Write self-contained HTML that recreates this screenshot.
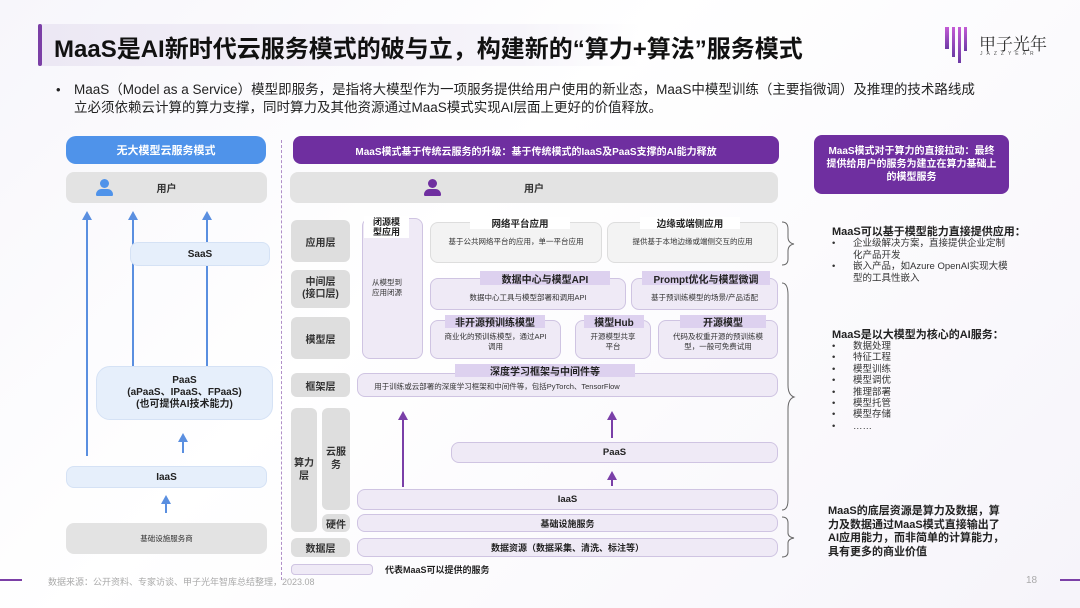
<!DOCTYPE html>
<html><head><meta charset="utf-8"><style>
*{margin:0;padding:0;box-sizing:border-box}
body{width:1080px;height:608px;position:relative;overflow:hidden;background:linear-gradient(135deg,#f7f6fb,#ffffff 40%,#f6f4fa);font-family:"Liberation Sans","Noto Sans CJK SC",sans-serif;color:#222}
.a{position:absolute}
.c{display:flex;align-items:center;justify-content:center;text-align:center}
.g{background:#dedede;border-radius:6px;font-weight:bold;font-size:10px;color:#333}
.l{background:#efeaf6;border:1px solid #cfc4e2;border-radius:8px}
.t{background:#ddd1ef;font-weight:bold;font-size:10px;color:#222}
.s{font-size:7.5px;color:#333}
.vb{background:#5a8fe0;width:2px}
.vp{background:#7a3fa8;width:2px}
.ahb{width:0;height:0;border-left:5px solid transparent;border-right:5px solid transparent;border-bottom:9px solid #5a8fe0}
.ahp{width:0;height:0;border-left:5px solid transparent;border-right:5px solid transparent;border-bottom:9px solid #7a3fa8}
.rt{font-size:9.5px;line-height:11.5px;color:#333}
</style></head><body>
<!-- title -->
<div class="a" style="left:38px;top:24px;width:600px;height:42px;background:linear-gradient(90deg,#ece8f4,#f6f4fa 80%,rgba(255,255,255,0))"></div>
<div class="a" style="left:38px;top:24px;width:4px;height:42px;background:#7b3fa6;border-radius:2px"></div>
<div class="a" style="left:54px;top:29px;font-size:24px;font-weight:bold;color:#111;white-space:nowrap">MaaS是AI新时代云服务模式的破与立，构建新的“算力+算法”服务模式</div>
<!-- logo -->
<div class="a" style="left:945px;top:27px;width:4px;height:22px;background:linear-gradient(#c45bd6,#6d3aa5)"></div>
<div class="a" style="left:952px;top:27px;width:3px;height:30px;background:linear-gradient(#c45bd6,#6d3aa5)"></div>
<div class="a" style="left:958px;top:27px;width:3px;height:36px;background:linear-gradient(#c45bd6,#6d3aa5)"></div>
<div class="a" style="left:964px;top:27px;width:3px;height:24px;background:linear-gradient(#c45bd6,#6d3aa5)"></div>
<div class="a" style="left:979px;top:30px;font-size:17px;color:#333;font-family:'Noto Serif CJK SC',serif">甲子光年</div>
<div class="a" style="left:980px;top:51px;font-size:5px;letter-spacing:4px;color:#555">JAZZYEAR</div>
<!-- intro -->
<div class="a" style="left:56px;top:82px;font-size:13px">•</div>
<div class="a" style="left:74px;top:81px;width:910px;font-size:13.5px;line-height:18px;color:#222">MaaS（Model as a Service）模型即服务，是指将大模型作为一项服务提供给用户使用的新业态，MaaS中模型训练（主要指微调）及推理的技术路线成立必须依赖云计算的算力支撑，同时算力及其他资源通过MaaS模式实现AI层面上更好的价值释放。</div>

<!-- left column -->
<div class="a c" style="left:66px;top:136px;width:200px;height:28px;background:#4f93ea;border-radius:10px;color:#fff;font-weight:bold;font-size:11px">无大模型云服务模式</div>
<div class="a c g" style="left:66px;top:172px;width:201px;height:31px;border-radius:8px;font-size:10px;background:#e3e3e3">用户</div>
<div class="a" style="left:100px;top:179px;width:9px;height:9px;border-radius:50%;background:#4f93ea"></div>
<div class="a" style="left:96px;top:189px;width:17px;height:7px;border-radius:8px 8px 2px 2px;background:#4f93ea"></div>
<div class="a vb" style="left:86px;top:220px;height:236px"></div><div class="a ahb" style="left:82px;top:211px"></div>
<div class="a vb" style="left:132px;top:220px;height:146px"></div><div class="a ahb" style="left:128px;top:211px"></div>
<div class="a vb" style="left:206px;top:220px;height:22px"></div><div class="a ahb" style="left:202px;top:211px"></div>
<div class="a vb" style="left:206px;top:266px;height:100px"></div>
<div class="a c" style="left:130px;top:242px;width:140px;height:24px;background:#e6effb;border:1px solid #d5e2f5;border-radius:8px;font-weight:bold;font-size:10px">SaaS</div>
<div class="a c" style="left:96px;top:366px;width:177px;height:54px;background:#e6effb;border:1px solid #d5e2f5;border-radius:14px;font-weight:bold;font-size:10px;line-height:12px">PaaS<br>(aPaaS、IPaaS、FPaaS)<br>(也可提供AI技术能力)</div>
<div class="a vb" style="left:182px;top:441px;height:12px"></div><div class="a ahb" style="left:178px;top:433px"></div>
<div class="a c" style="left:66px;top:466px;width:201px;height:22px;background:#e6effb;border:1px solid #d5e2f5;border-radius:8px;font-weight:bold;font-size:10px">IaaS</div>
<div class="a vb" style="left:165px;top:503px;height:10px"></div><div class="a ahb" style="left:161px;top:495px"></div>
<div class="a c" style="left:66px;top:523px;width:201px;height:31px;background:#e3e3e3;border-radius:8px;font-size:7.5px;color:#333">基础设施服务商</div>
<div class="a" style="left:281px;top:140px;height:440px;border-left:1px dashed #b08fc8"></div>

<!-- middle -->
<div class="a c" style="left:293px;top:136px;width:486px;height:28px;background:#6f2fa0;border-radius:8px;color:#fff;font-weight:bold;font-size:10px">MaaS模式基于传统云服务的升级：基于传统模式的IaaS及PaaS支撑的AI能力释放</div>
<div class="a c g" style="left:290px;top:172px;width:488px;height:31px;border-radius:8px;background:#e3e3e3">用户</div>
<div class="a" style="left:428px;top:179px;width:9px;height:9px;border-radius:50%;background:#6f2fa0"></div>
<div class="a" style="left:424px;top:189px;width:17px;height:7px;border-radius:8px 8px 2px 2px;background:#6f2fa0"></div>

<div class="a c g" style="left:291px;top:220px;width:59px;height:42px">应用层</div>
<div class="a c g" style="left:291px;top:270px;width:59px;height:38px;line-height:12px">中间层<br>(接口层)</div>
<div class="a c g" style="left:291px;top:317px;width:59px;height:42px">模型层</div>
<div class="a c g" style="left:291px;top:373px;width:59px;height:24px">框架层</div>
<div class="a c g" style="left:291px;top:408px;width:26px;height:124px;line-height:13px">算力<br>层</div>
<div class="a c g" style="left:322px;top:408px;width:28px;height:102px;line-height:13px">云服<br>务</div>
<div class="a c g" style="left:322px;top:514px;width:28px;height:18px">硬件</div>
<div class="a c g" style="left:291px;top:538px;width:59px;height:19px">数据层</div>

<div class="a l" style="left:362px;top:218px;width:61px;height:141px"></div>
<div class="a c" style="left:364px;top:216px;width:45px;height:22px;background:#fff;font-weight:bold;font-size:9px;line-height:10px">闭源模<br>型应用</div>
<div class="a c s" style="left:362px;top:278px;width:50px;line-height:10px">从模型到<br>应用闭源</div>

<div class="a l" style="left:430px;top:222px;width:172px;height:41px;background:#f3f3f3;border-color:#ddd"></div>
<div class="a c" style="left:470px;top:217px;width:100px;height:12px;background:#fff;font-weight:bold;font-size:9.5px">网络平台应用</div>
<div class="a c s" style="left:430px;top:236px;width:172px">基于公共网络平台的应用，单一平台应用</div>
<div class="a l" style="left:607px;top:222px;width:171px;height:41px;background:#f3f3f3;border-color:#ddd"></div>
<div class="a c" style="left:640px;top:217px;width:100px;height:12px;background:#fff;font-weight:bold;font-size:9.5px">边缘或端侧应用</div>
<div class="a c s" style="left:607px;top:236px;width:171px">提供基于本地边缘或端侧交互的应用</div>

<div class="a l" style="left:430px;top:278px;width:196px;height:32px"></div>
<div class="a c t" style="left:480px;top:271px;width:130px;height:14px">数据中心与模型API</div>
<div class="a c s" style="left:430px;top:292px;width:196px">数据中心工具与模型部署和调用API</div>
<div class="a l" style="left:631px;top:278px;width:147px;height:32px"></div>
<div class="a c t" style="left:642px;top:271px;width:128px;height:14px">Prompt优化与模型微调</div>
<div class="a c s" style="left:631px;top:292px;width:147px">基于预训练模型的场景/产品适配</div>

<div class="a l" style="left:430px;top:320px;width:131px;height:39px"></div>
<div class="a c t" style="left:445px;top:315px;width:100px;height:13px">非开源预训练模型</div>
<div class="a c s" style="left:432px;top:332px;width:127px;line-height:10px">商业化的预训练模型，通过API<br>调用</div>
<div class="a l" style="left:575px;top:320px;width:76px;height:39px"></div>
<div class="a c t" style="left:584px;top:315px;width:60px;height:13px">模型Hub</div>
<div class="a c s" style="left:575px;top:332px;width:76px;line-height:10px">开源模型共享<br>平台</div>
<div class="a l" style="left:658px;top:320px;width:120px;height:39px"></div>
<div class="a c t" style="left:680px;top:315px;width:86px;height:13px">开源模型</div>
<div class="a c s" style="left:658px;top:332px;width:120px;line-height:10px">代码及权重开源的预训练模<br>型，一般可免费试用</div>

<div class="a l" style="left:357px;top:373px;width:421px;height:24px"></div>
<div class="a c t" style="left:455px;top:364px;width:180px;height:13px">深度学习框架与中间件等</div>
<div class="a c s" style="left:357px;top:381px;width:280px">用于训练或云部署的深度学习框架和中间件等，包括PyTorch、TensorFlow</div>

<div class="a vp" style="left:402px;top:420px;height:67px"></div><div class="a ahp" style="left:398px;top:411px"></div>
<div class="a vp" style="left:611px;top:420px;height:18px"></div><div class="a ahp" style="left:607px;top:411px"></div>
<div class="a l c" style="left:451px;top:442px;width:327px;height:21px;font-weight:bold;font-size:9.5px">PaaS</div>
<div class="a vp" style="left:611px;top:478px;height:8px"></div><div class="a ahp" style="left:607px;top:471px"></div>
<div class="a l c" style="left:357px;top:489px;width:421px;height:21px;font-weight:bold;font-size:9.5px">IaaS</div>
<div class="a l c" style="left:357px;top:514px;width:421px;height:18px;font-weight:bold;font-size:9px">基础设施服务</div>
<div class="a l c" style="left:357px;top:538px;width:421px;height:19px;font-weight:bold;font-size:9px">数据资源（数据采集、清洗、标注等）</div>
<div class="a l" style="left:291px;top:564px;width:82px;height:11px;border-radius:4px"></div>
<div class="a" style="left:385px;top:563px;font-weight:bold;font-size:9px">代表MaaS可以提供的服务</div>

<!-- braces -->
<svg class="a" style="left:780px;top:215px" width="20" height="350">
<path d="M2 7 Q8 7 8 14 L8 22 Q8 28 14 29 Q8 30 8 36 L8 44 Q8 50 2 50" fill="none" stroke="#666" stroke-width="1"/>
<path d="M2 68 Q8 68 8 80 L8 170 Q8 180 14 182 Q8 184 8 194 L8 285 Q8 295 2 295" fill="none" stroke="#666" stroke-width="1"/>
<path d="M2 302 Q8 302 8 308 L8 318 Q8 322 14 323 Q8 324 8 328 L8 337 Q8 342 2 342" fill="none" stroke="#666" stroke-width="1"/>
</svg>

<!-- right -->
<div class="a c" style="left:814px;top:135px;width:195px;height:59px;background:#6f2fa0;border-radius:8px;color:#fff;font-weight:bold;font-size:10px;line-height:13px;padding:0 12px">MaaS模式对于算力的直接拉动：最终提供给用户的服务为建立在算力基础上的模型服务</div>
<div class="a" style="left:832px;top:223px;font-weight:bold;font-size:11px">MaaS可以基于模型能力直接提供应用：</div>
<div class="a rt" style="left:832px;top:238px">•</div>
<div class="a rt" style="left:853px;top:238px;width:160px">企业级解决方案，直接提供企业定制化产品开发</div>
<div class="a rt" style="left:832px;top:261px">•</div>
<div class="a rt" style="left:853px;top:261px;width:160px">嵌入产品，如Azure OpenAI实现大模型的工具性嵌入</div>
<div class="a" style="left:832px;top:326px;font-weight:bold;font-size:11px">MaaS是以大模型为核心的AI服务：</div>
<div class="a rt" style="left:832px;top:341px;line-height:11.4px">•<br>•<br>•<br>•<br>•<br>•<br>•<br>•</div>
<div class="a rt" style="left:853px;top:341px;line-height:11.4px">数据处理<br>特征工程<br>模型训练<br>模型调优<br>推理部署<br>模型托管<br>模型存储<br>……</div>
<div class="a" style="left:828px;top:505px;width:178px;font-weight:bold;font-size:11px;line-height:13.5px">MaaS的底层资源是算力及数据，算力及数据通过MaaS模式直接输出了AI应用能力，而非简单的计算能力，具有更多的商业价值</div>

<!-- footer -->
<div class="a" style="left:0;top:579px;width:22px;height:2px;background:#7b3fa6"></div>
<div class="a" style="left:48px;top:575px;font-size:9px;color:#aaa">数据来源：公开资料、专家访谈、甲子光年智库总结整理，2023.08</div>
<div class="a" style="left:1026px;top:575px;font-size:10px;color:#aaa">18</div>
<div class="a" style="left:1060px;top:579px;width:20px;height:2px;background:#7b3fa6"></div>
</body></html>
